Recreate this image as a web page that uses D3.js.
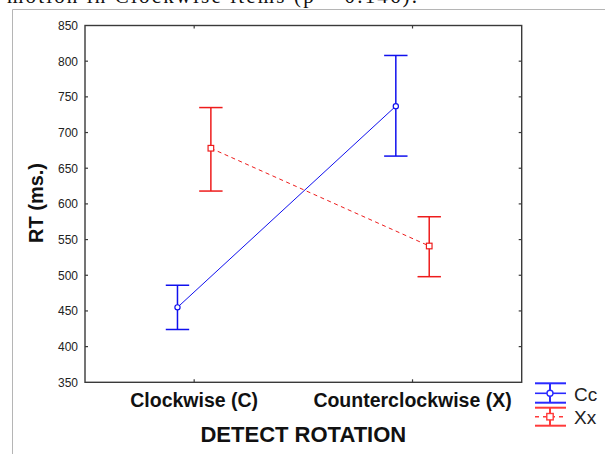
<!DOCTYPE html>
<html>
<head>
<meta charset="utf-8">
<script src="https://d3js.org/d3.v7.min.js"></script>
<style>
    body { margin: 0; background: #ffffff; }
    svg { display: block; }
    .font { font-family: Arial, "Liberation Sans", sans-serif; }
    .tick-label { font-size: 12px; fill: #222222; }
    .cat-label { font-size: 19.5px; font-weight: bold; fill: #111111; }
    .axis-title { font-size: 22px; font-weight: bold; fill: #111111; }
    .legend-text { font-size: 19px; fill: #222222; }
    .frame { fill: none; stroke: #3a3a3a; stroke-width: 1.4; }
    .tick { stroke: #3a3a3a; stroke-width: 1.2; }
</style>
</head>
<body>
<script>
    // data
    const CATEGORIES = ["Clockwise (C)", "Counterclockwise (X)"];
    const SERIES = ["Cc", "Xx"];
    const MEANS = {Cc: [455, 737], Xx: [678, 541]};
    const LOWER = {Cc: [424, 667], Xx: [618, 498]};
    const UPPER = {Cc: [486, 808], Xx: [735, 582]};
    const Y_TICKS = [350, 400, 450, 500, 550, 600, 650, 700, 750, 800, 850];
    const Y_LABEL = "RT (ms.)";
    const X_LABEL = "DETECT ROTATION";
    const CAPTION = "motion in Clockwise items (p = 0.146).";

    const COLORS = {Cc: "#1010ee", Xx: "#ee1c1c"};
    const LEGEND_COLORS = {Cc: "#2a2aff", Xx: "#ff3a3a"};
    const OFFSET = {Cc: -16.7, Xx: 16.7};

    const W = 605, H = 454;
    const PLOT = {left: 85, right: 521.7, top: 25.5, bottom: 382.3};

    const svg = d3.select("body").append("svg")
        .attr("width", W).attr("height", H);

    // cut-off caption line from the page above
    svg.append("text")
        .attr("x", 7).attr("y", 2.5)
        .attr("textLength", 410)
        .style("font-family", "'Liberation Serif', 'Times New Roman', serif")
        .style("font-size", "21px")
        .attr("fill", "#111")
        .text(CAPTION);

    // grey outer border
    svg.append("path")
        .attr("d", "M12.5," + H + " L12.5,9.5 L" + W + ",9.5")
        .attr("fill", "none")
        .attr("stroke", "#b5b5b5")
        .attr("stroke-width", 1);

    const y = d3.scaleLinear()
        .domain([350, 850])
        .range([PLOT.bottom, PLOT.top]);
    const x = d3.scalePoint()
        .domain(CATEGORIES)
        .range([PLOT.left, PLOT.right])
        .padding(0.5);

    // frame
    svg.append("rect")
        .classed("frame", true)
        .attr("x", PLOT.left).attr("y", PLOT.top)
        .attr("width", PLOT.right - PLOT.left)
        .attr("height", PLOT.bottom - PLOT.top);

    // y ticks (inside, both sides)
    const inner = Y_TICKS.slice(1, -1);
    svg.selectAll(".ytick-l").data(inner).enter().append("line")
        .classed("tick", true)
        .attr("x1", PLOT.left).attr("x2", PLOT.left + 3)
        .attr("y1", d => y(d)).attr("y2", d => y(d));
    svg.selectAll(".ytick-r").data(inner).enter().append("line")
        .classed("tick", true)
        .attr("x1", PLOT.right).attr("x2", PLOT.right - 3)
        .attr("y1", d => y(d)).attr("y2", d => y(d));
    svg.selectAll(".ylab").data(Y_TICKS).enter().append("text")
        .classed("font tick-label", true)
        .attr("x", PLOT.left - 7)
        .attr("y", d => y(d))
        .attr("dy", "0.36em")
        .attr("text-anchor", "end")
        .text(d => d);

    // x ticks (inside, top and bottom)
    svg.selectAll(".xtick-b").data(CATEGORIES).enter().append("line")
        .classed("tick", true)
        .attr("x1", d => x(d)).attr("x2", d => x(d))
        .attr("y1", PLOT.bottom).attr("y2", PLOT.bottom - 3);
    svg.selectAll(".xtick-t").data(CATEGORIES).enter().append("line")
        .classed("tick", true)
        .attr("x1", d => x(d)).attr("x2", d => x(d))
        .attr("y1", PLOT.top).attr("y2", PLOT.top + 3);
    svg.selectAll(".xlab").data(CATEGORIES).enter().append("text")
        .classed("font cat-label", true)
        .attr("x", d => x(d))
        .attr("y", 406.5)
        .attr("text-anchor", "middle")
        .text(d => d);

    // axis titles
    svg.append("text")
        .classed("font axis-title", true)
        .attr("x", (PLOT.left + PLOT.right) / 2)
        .attr("y", 441.5)
        .attr("text-anchor", "middle")
        .text(X_LABEL);
    svg.append("text")
        .classed("font axis-title", true)
        .style("font-size", "20px")
        .attr("transform", "translate(43,203) rotate(-90)")
        .attr("text-anchor", "middle")
        .text(Y_LABEL);

    // series
    SERIES.forEach(function(s) {
        const pts = CATEGORIES.map(function(c, i) {
            return {cx: x(c) + OFFSET[s], mean: MEANS[s][i], lo: LOWER[s][i], hi: UPPER[s][i]};
        });
        const line = d3.line()
            .x(d => d.cx)
            .y(d => y(d.mean));
        svg.append("path")
            .datum(pts)
            .attr("d", line)
            .attr("fill", "none")
            .attr("stroke", COLORS[s])
            .attr("stroke-width", 1)
            .attr("stroke-dasharray", s === "Xx" ? "4,3.5" : null);

        const g = svg.append("g").attr("stroke", COLORS[s]).attr("stroke-width", 1.5);
        pts.forEach(function(p) {
            g.append("line")
                .attr("x1", p.cx).attr("x2", p.cx)
                .attr("y1", y(p.hi)).attr("y2", y(p.lo));
            g.append("line")
                .attr("x1", p.cx - 11.7).attr("x2", p.cx + 11.7)
                .attr("y1", y(p.hi)).attr("y2", y(p.hi));
            g.append("line")
                .attr("x1", p.cx - 11.7).attr("x2", p.cx + 11.7)
                .attr("y1", y(p.lo)).attr("y2", y(p.lo));
            if (s === "Cc") {
                g.append("circle")
                    .attr("cx", p.cx).attr("cy", y(p.mean))
                    .attr("r", 2.6)
                    .attr("fill", "#fff")
                    .attr("stroke-width", 1.2);
            } else {
                g.append("rect")
                    .attr("x", p.cx - 2.8).attr("y", y(p.mean) - 2.8)
                    .attr("width", 5.6).attr("height", 5.6)
                    .attr("fill", "#fff")
                    .attr("stroke-width", 1.2);
            }
        });
    });

    // legend
    const LEG = {Cc: {top: 383.3, mid: 393.3, bot: 402.7, ty: 401}, Xx: {top: 407.7, mid: 416.7, bot: 425.7, ty: 423.5}};
    SERIES.forEach(function(s) {
        const L = LEG[s];
        const g = svg.append("g").attr("stroke", LEGEND_COLORS[s]).attr("stroke-width", 2);
        g.append("line").attr("x1", 535).attr("x2", 566).attr("y1", L.top).attr("y2", L.top);
        g.append("line").attr("x1", 535).attr("x2", 566).attr("y1", L.bot).attr("y2", L.bot);
        g.append("line").attr("x1", 550).attr("x2", 550).attr("y1", L.top).attr("y2", L.bot);
        g.append("line").attr("x1", 535).attr("x2", 566).attr("y1", L.mid).attr("y2", L.mid)
            .attr("stroke-width", 1.6)
            .attr("stroke-dasharray", s === "Xx" ? "4,4" : null);
        if (s === "Cc") {
            g.append("circle").attr("cx", 550).attr("cy", L.mid).attr("r", 3)
                .attr("fill", "#fff").attr("stroke-width", 1.4);
        } else {
            g.append("rect").attr("x", 546.8).attr("y", L.mid - 3.2)
                .attr("width", 6.4).attr("height", 6.4)
                .attr("fill", "#fff").attr("stroke-width", 1.4);
        }
        svg.append("text")
            .classed("font legend-text", true)
            .attr("x", 574).attr("y", L.ty)
            .text(s);
    });
</script>
</body>
</html>
